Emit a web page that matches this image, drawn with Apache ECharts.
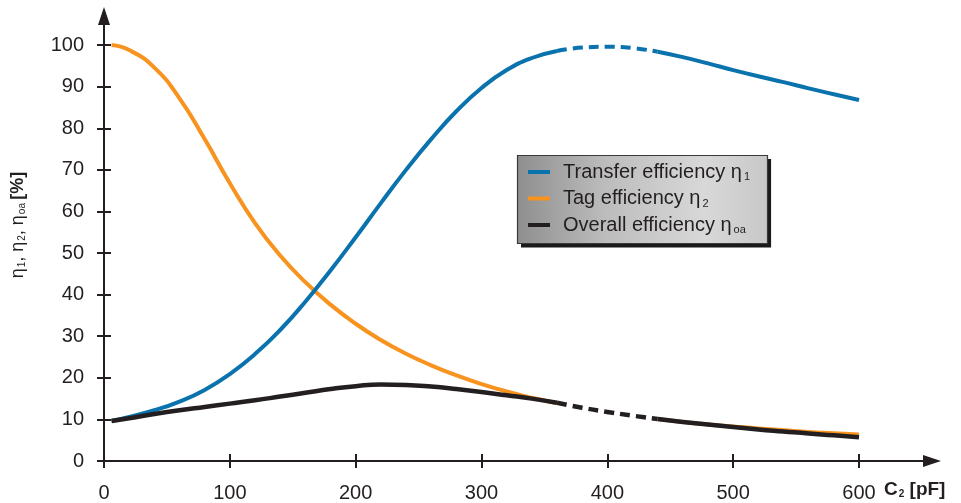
<!DOCTYPE html>
<html><head><meta charset="utf-8">
<script src="https://cdn.jsdelivr.net/npm/echarts@6/dist/echarts.min.js"></script>
<style>html,body{margin:0;padding:0;background:#fff}#c{width:961px;height:503px}</style>
</head><body><div id="c"></div>
<script>
// C2 [pF]
const c2 = [6,20,40,60,80,100,120,140,160,180,200,220,240,260,280,300,320,340,360,380,400,420,440,460,480,500,520,540,560,580,600];
// Transfer efficiency eta1 [%]
const transfer = [9.6,10.6,12.2,14.3,17.1,20.9,25.7,31.5,38.3,45.8,53.8,62.0,70.0,77.4,84.1,89.7,94.0,96.9,98.6,99.4,99.6,99.3,98.4,97.1,95.6,94.0,92.5,91.1,89.6,88.2,86.8];
// Tag efficiency eta2 [%]
const tag = [100,98.8,94.6,87.2,77.4,66.8,57.2,49.4,43.0,37.6,33.0,29.1,25.8,23.0,20.6,18.5,16.7,15.2,13.9,12.8,11.8,10.9,10.1,9.4,8.8,8.3,7.8,7.4,7.0,6.7,6.4];
// Overall efficiency eta_oa [%]
const overall = [9.6,10.3,11.3,12.2,13.0,13.8,14.6,15.5,16.4,17.3,18.0,18.4,18.3,17.9,17.3,16.6,15.8,15.0,14.0,12.8,11.8,10.9,10.1,9.4,8.8,8.2,7.6,7.1,6.6,6.2,5.7];
const xTicks = [0,100,200,300,400,500,600];
const yTicks = [0,10,20,30,40,50,60,70,80,90,100];
const dashFrom = 360, dashTo = 440;
const names = ['Transfer efficiency','Tag efficiency','Overall efficiency'];
const subs = {'Transfer efficiency':'1','Tag efficiency':'2','Overall efficiency':'oa'};

const FONT = "'Liberation Sans', Arial, sans-serif";
const INK = '#231f20';
const BLUE = '#0a72ad', ORANGE = '#f7931e';

function solid(vals){ return c2.map((x,i)=> (x>dashFrom && x<dashTo) ? [x,'-'] : [x, vals[i]]); }
function dashed(vals){ return c2.map((x,i)=>[x, vals[i]]).filter(p=>p[0]>=dashFrom && p[0]<=dashTo); }

const xMax = 658, yMax = 107;
const SM = 0.5;
const chart = echarts.init(document.getElementById('c'), null, {renderer:'canvas'});
chart.setOption({
  animation:false,
  grid:{left:104, right:29, top:16, bottom:42, containLabel:false},
  xAxis:[
    {type:'value', min:0, max:xMax, interval:100, position:'bottom',
     axisLine:{show:true, onZero:false, symbol:['none','triangle'], symbolSize:[12,18], lineStyle:{color:INK,width:2}},
     axisTick:{show:true, length:7, inside:false, customValues:xTicks, lineStyle:{color:INK,width:2}},
     axisLabel:{show:true, customValues:xTicks, margin:22, fontSize:20, fontFamily:FONT, color:INK,
       formatter:v=>xTicks.includes(v)?String(v):''},
     splitLine:{show:false}},
    {type:'value', min:0, max:xMax, interval:100, position:'bottom',
     axisLine:{show:false}, axisLabel:{show:false},
     axisTick:{show:true, inside:true, length:7, customValues:xTicks, lineStyle:{color:INK,width:2}},
     splitLine:{show:false}}
  ],
  yAxis:[
    {type:'value', min:0, max:yMax, interval:10, position:'left',
     axisLine:{show:true, onZero:false, symbol:['none','triangle'], symbolSize:[12,18], lineStyle:{color:INK,width:2}},
     axisTick:{show:true, length:7, inside:false, customValues:yTicks, lineStyle:{color:INK,width:2}},
     axisLabel:{show:true, customValues:yTicks, margin:20, fontSize:20, fontFamily:FONT, color:INK,
       formatter:v=>yTicks.includes(v)?String(v):''},
     splitLine:{show:false}},
    {type:'value', min:0, max:yMax, interval:10, position:'left',
     axisLine:{show:false}, axisLabel:{show:false},
     axisTick:{show:true, inside:true, length:7, customValues:yTicks, lineStyle:{color:INK,width:2}},
     splitLine:{show:false}}
  ],
  legend:{
    data:names, orient:'vertical', left:517, top:155,
    padding:[7,17,8,11], itemGap:6, itemWidth:22, itemHeight:4, icon:'rect',
    backgroundColor:{type:'linear', x:0, y:0, x2:1, y2:0, colorStops:[
      {offset:0, color:'#8e8e8e'},{offset:0.35, color:'#bcbcbc'},{offset:0.75, color:'#d8d8d8'},{offset:1, color:'#c8c8c8'}]},
    borderWidth:0,
    shadowColor:'#1a1a1a', shadowBlur:0, shadowOffsetX:4, shadowOffsetY:4,
    formatter:n=>'{t|'+n+' η}{s|'+subs[n]+'}',
    textStyle:{color:INK, fontFamily:FONT, fontSize:20, padding:[0,0,0,8],
      rich:{t:{fontSize:20, fontFamily:FONT, color:INK}, s:{fontSize:11, fontFamily:FONT, color:INK, padding:[10,0,0,2]}}}
  },
  graphic:[
    {type:'rect', silent:true, z:100, shape:{x:517.5, y:155.5, width:250, height:88},
     style:{fill:'none', stroke:'#3a3a3a', lineWidth:1.2}},
    {type:'text', x:18, y:225, rotation:Math.PI/2, silent:true,
     style:{text:'{g|η}{s|1}{g|, η}{s|2}{g|, η}{s|oa} {b|[%]}', align:'center', verticalAlign:'middle',
       rich:{g:{fontSize:18, fontFamily:FONT, fill:INK, color:INK},
             s:{fontSize:10, fontFamily:FONT, fill:INK, color:INK, padding:[9,0,0,1]},
             b:{fontSize:18, fontWeight:'bold', fontFamily:FONT, fill:INK, color:INK}}}},
    {type:'text', x:884, y:490, silent:true,
     style:{text:'{b|C}{s|2}{b| [pF]}', align:'left', verticalAlign:'middle',
       rich:{b:{fontSize:19, fontWeight:'bold', fontFamily:FONT, fill:INK, color:INK},
             s:{fontSize:10, fontWeight:'bold', fontFamily:FONT, fill:INK, color:INK, padding:[9,0,0,1]}}}}
  ],
  series:[
    {name:'Tag efficiency', type:'line', data:solid(tag), smooth:SM, showSymbol:false, connectNulls:false,
     color:ORANGE, lineStyle:{color:ORANGE, width:4}, z:2},
    {name:'Transfer efficiency', type:'line', data:solid(transfer), smooth:SM, showSymbol:false, connectNulls:false,
     color:BLUE, lineStyle:{color:BLUE, width:4}, z:3},
    {name:'Transfer dashed', type:'line', data:dashed(transfer), smooth:SM, showSymbol:false,
     color:BLUE, lineStyle:{color:BLUE, width:4, type:[10,6]}, z:3},
    {name:'Overall efficiency', type:'line', data:solid(overall), smooth:SM, showSymbol:false, connectNulls:false,
     color:INK, lineStyle:{color:INK, width:4.5}, z:4},
    {name:'Overall dashed', type:'line', data:dashed(overall), smooth:SM, showSymbol:false,
     color:INK, lineStyle:{color:INK, width:4.5, type:[10,6]}, z:4}
  ]
});
</script></body></html>
